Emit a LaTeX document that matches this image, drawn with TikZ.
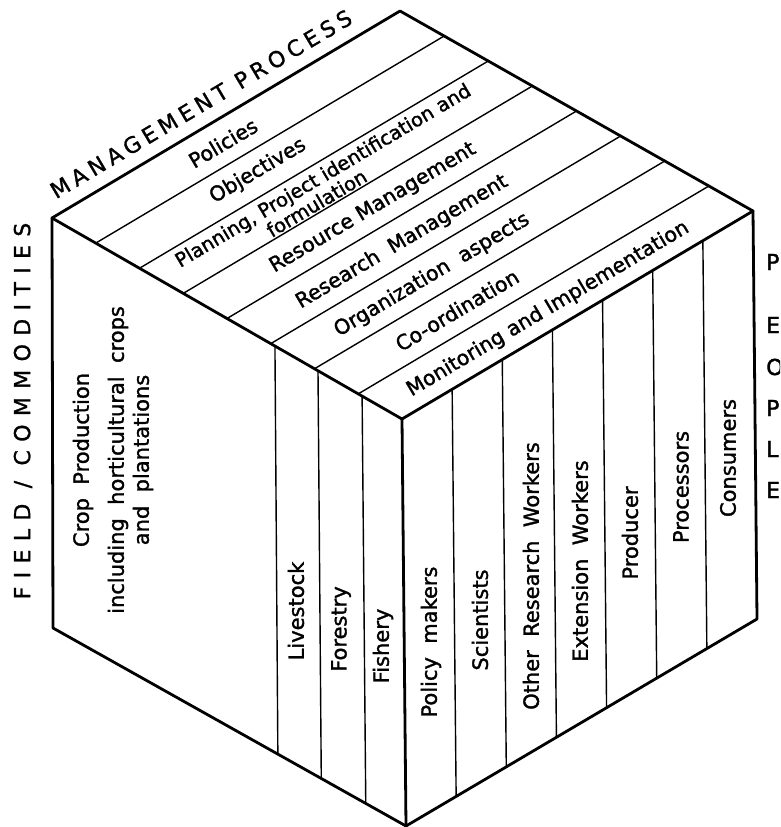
\documentclass[tikz,border=0pt]{standalone}
\usepackage{fontspec}
\setmainfont{DejaVu Sans}[FakeBold=1.5]
\newfontfamily\spacedA{DejaVu Sans}[LetterSpace=38,FakeBold=1.2]
\newfontfamily\spacedB{DejaVu Sans}[LetterSpace=22,FakeBold=1.2]
\usetikzlibrary{calc}
\begin{document}
\begin{tikzpicture}[x=1pt,y=-1pt,
  edge/.style={line width=2.8pt, line join=round, line cap=round},
  divider/.style={line width=1.4pt},
  toplbl/.style={rotate=30.7, inner sep=0pt, font=\fontsize{20.5}{24}\selectfont},
  vlbl/.style={rotate=90, inner sep=0pt, font=\fontsize{21}{25}\selectfont},
  letter/.style={anchor=west, inner sep=0pt, font=\fontsize{22}{26}\selectfont}]
\useasboundingbox (0,0) rectangle (780,827);
\clip (0,0) rectangle (780,827);
% cube corners
\coordinate (T) at (400,11);
\coordinate (L) at (52,218);
\coordinate (R) at (753,211);
\coordinate (F) at (402,419);
\coordinate (BL) at (53,628);
\coordinate (B) at (406,826);
\coordinate (BR) at (757,619);
% top face dividers
\foreach \k in {1,...,7}
  \draw[divider] ($(T)!\k/8!(R)$) -- ($(L)!\k/8!(F)$);
% right face dividers
\foreach \k in {1,...,6}
  \draw[divider] ($(F)!\k/7!(R)$) -- ($(B)!\k/7!(BR)$);
% left face dividers
\foreach \f in {0.637,0.76,0.886}
  \draw[divider] ($(L)!\f!(F)$) -- ($(BL)!\f!(B)$);
% outline
\draw[edge] (L) -- (T) -- (R) -- (F) -- cycle;
\draw[edge] (L) -- (BL) -- (B) -- (BR) -- (R);
\draw[edge] (F) -- (B);
% top labels
\node[rotate=30.7, inner sep=0pt, font=\spacedB\fontsize{22}{26}\selectfont] (mgmt) at (201,104) {MANAGEMENT PROCESS};
\node[toplbl] (pol) at (223,143) {Policies};
\node[toplbl] (obj) at (258,171) {Objectives};
\node[toplbl, align=left, font=\fontsize{19.5}{21}\selectfont] (plan) at (328,184) {Planning, Project identification and\\\hspace*{94pt}formulation};
\node[toplbl] (res) at (373,208) {Resource Management};
\node[toplbl] (rsm) at (402,242) {Research\ \ Management};
\node[toplbl] (org) at (432,275) {Organization\ \ aspects};
\node[toplbl] (coo) at (457,310) {Co-ordination};
\node[toplbl] (mon) at (548,309) {Monitoring and Implementation};
% left face labels
\node[rotate=90, inner sep=0pt, font=\spacedA\fontsize{22}{26}\selectfont] (field) at (23,411) {FIELD / COMMODITIES};
\node[vlbl, align=center] (crop) at (113,460) {Crop\ \ Production\\[10pt]including\ \ horticultural\ \ crops\\and\ \ plantations};
\node[vlbl] (live) at (296,611) {Livestock};
\node[vlbl] (fore) at (341,629) {Forestry};
\node[vlbl] (fish) at (383,646) {Fishery};
% right face labels
\node[vlbl] (polm) at (431,642) {Policy\ \ makers};
\node[vlbl] (sci) at (480,620) {Scientists};
\node[vlbl] (orw) at (531,576) {Other\ \ Research\ \ Workers};
\node[vlbl] (ext) at (580,561) {Extension\ \ Workers};
\node[vlbl] (prod) at (630,533) {Producer};
\node[vlbl] (proc) at (681,487) {Processors};
\node[vlbl] (cons) at (728,458) {Consumers};
% PEOPLE (cropped at the right edge)
\node[letter] (p1) at (766,262) {P};
\node[letter] (p2) at (766,325) {E};
\node[letter] (p3) at (766,367) {O};
\node[letter] (p4) at (766,408) {P};
\node[letter] (p5) at (766,449) {L};
\node[letter] (p6) at (766,490) {E};
\end{tikzpicture}
\end{document}
